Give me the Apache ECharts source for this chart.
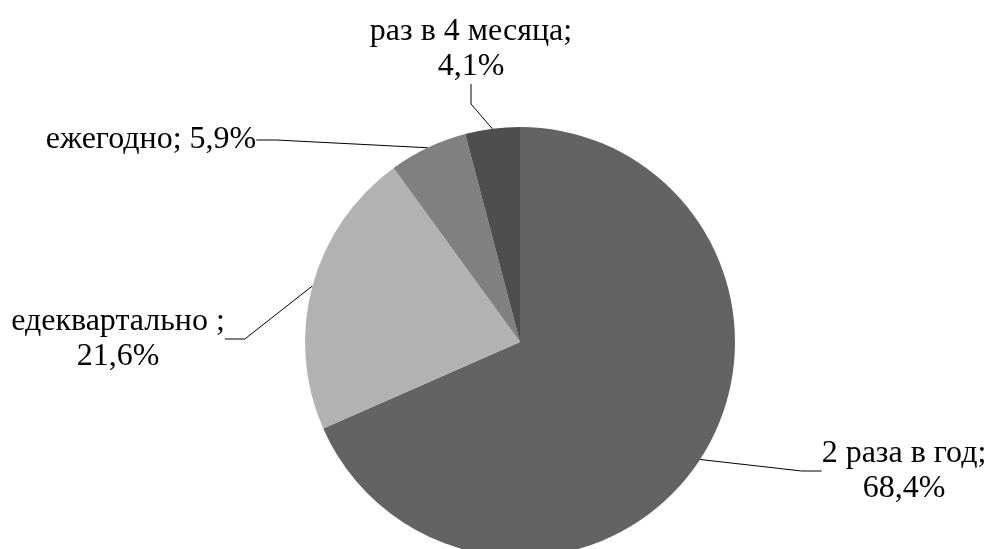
<!DOCTYPE html>
<html>
<head>
<meta charset="utf-8">
<script src="https://cdn.jsdelivr.net/npm/echarts@6/dist/echarts.min.js"></script>
<style>html,body{margin:0;padding:0;background:#fff}#c{width:991px;height:549px}</style>
</head>
<body>
<div id="c"></div>
<script>
const categories = ['2 раза в год', 'едеквартально ', 'ежегодно', 'раз в 4 месяца'];
const values = [68.4, 21.6, 5.9, 4.1];
const valueLabels = ['68,4%', '21,6%', '5,9%', '4,1%'];
const colors = ['#636363', '#b2b2b2', '#808080', '#4e4e4e'];

// label block centers (layout only)
const labelPos = [
  {x: 904, y: 471},
  {x: 118, y: 339},
  {x: 151, y: 140},
  {x: 471, y: 49}
];
const singleLine = [false, false, true, false];
const FONT = 'Liberation Serif';

const chart = echarts.init(document.getElementById('c'));
chart.setOption({
  animation: false,
  textStyle: {fontFamily: FONT},
  series: [{
    type: 'pie',
    center: [520, 342],
    radius: 215,
    startAngle: 90,
    clockwise: true,
    data: categories.map((c, i) => ({
      name: c, value: values[i],
      itemStyle: {color: colors[i]}
    })),
    itemStyle: {borderWidth: 0},
    label: {
      show: true,
      position: 'outside',
      fontFamily: FONT,
      fontSize: 32,
      lineHeight: 35,
      color: '#000',
      align: 'center',
      overflow: 'none',
      formatter: p => singleLine[p.dataIndex]
        ? p.name + '; ' + valueLabels[p.dataIndex]
        : p.name + ';\n' + valueLabels[p.dataIndex]
    },
    labelLine: {
      show: true,
      length: 20,
      length2: 20,
      lineStyle: {color: '#000', width: 1}
    },
    labelLayout: p => ({
      x: labelPos[p.dataIndex].x,
      y: labelPos[p.dataIndex].y,
      align: 'center',
      verticalAlign: 'middle'
    })
  }]
});
</script>
</body>
</html>
